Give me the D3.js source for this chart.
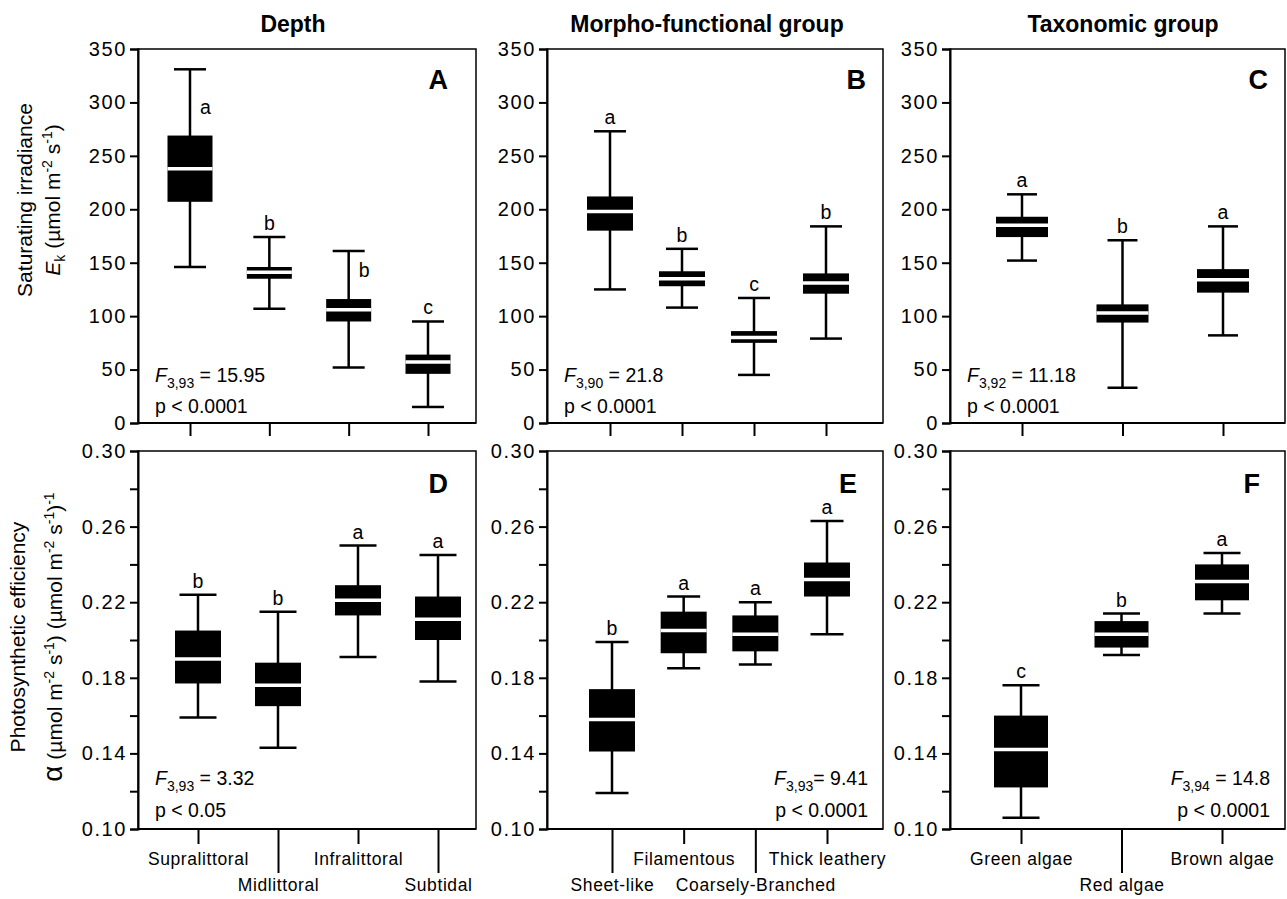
<!DOCTYPE html>
<html>
<head>
<meta charset="utf-8">
<script src="https://cdn.jsdelivr.net/npm/d3@7"></script>
<style>
body{margin:0;background:#fff;}
svg{font-family:"Liberation Sans",Arial,sans-serif;}
</style>
</head>
<body>
<div id="canvas"></div>
<script>
// ---- data (box stats: [min, q1, median, q3, max]) ----
var titles = ['Depth','Morpho-functional group','Taxonomic group'];
var depthCats = ['Supralittoral','Midlittoral','Infralittoral','Subtidal'];
var morphoCats = ['Sheet-like','Filamentous','Coarsely-Branched','Thick leathery'];
var taxoCats = ['Green algae','Red algae','Brown algae'];

var ekTicks = [0,50,100,150,200,250,300,350];
var alphaTicks = [0.10,0.12,0.14,0.16,0.18,0.20,0.22,0.24,0.26,0.28,0.30];

var ekDepth = [[146,207,238,269,331],[107,135,141,146,174],[52,95,106,116,161],[15,46,57,64,95]];
var ekMorpho = [[125,180,198,212,273],[108,128,135,142,163],[45,75,80,86,117],[79,121,131,140,184]];
var ekTaxo = [[152,174,185,193,214],[33,94,103,111,171],[82,122,134,144,184]];

var alphaDepth = [[0.159,0.177,0.190,0.205,0.224],[0.143,0.165,0.176,0.188,0.215],[0.191,0.213,0.221,0.229,0.250],[0.178,0.200,0.211,0.223,0.245]];
var alphaMorpho = [[0.119,0.141,0.158,0.174,0.199],[0.185,0.193,0.205,0.215,0.223],[0.187,0.194,0.203,0.213,0.220],[0.203,0.223,0.232,0.241,0.263]];
var alphaTaxo = [[0.106,0.122,0.142,0.160,0.176],[0.192,0.196,0.203,0.210,0.214],[0.214,0.221,0.231,0.240,0.246]];

var ekDepthLetters = ['a','b','b','c'];
var ekMorphoLetters = ['a','b','c','b'];
var ekTaxoLetters = ['a','b','a'];
var alphaDepthLetters = ['b','b','a','a'];
var alphaMorphoLetters = ['b','a','a','a'];
var alphaTaxoLetters = ['c','b','a'];

var panelLabels = ['A','B','C','D','E','F'];
var fSubs = ['3,93','3,90','3,92','3,93','3,93','3,94'];
var fVals = [' = 15.95',' = 21.8',' = 11.18',' = 3.32','= 9.41',' = 14.8'];
var pVals = ['p < 0.0001','p < 0.0001','p < 0.0001','p < 0.05','p < 0.0001','p < 0.0001'];

// ---- layout ----
var W = 1287, H = 899;
var cols = [{x0:138,x1:476,tx:293},{x0:547,x1:883,tx:707},{x0:950,x1:1285,tx:1123}];
var rows = [{y0:49,y1:423},{y0:451,y1:829}];

var panels = [
  {col:0,row:0,cats:depthCats,box:ekDepth,letters:ekDepthLetters,beside:[1,0,1,0],pad:[52,48],bw:45,cw:32,lo:28,right:false},
  {col:1,row:0,cats:morphoCats,box:ekMorpho,letters:ekMorphoLetters,beside:[0,0,0,0],pad:[63,57],bw:46,cw:32,lo:17,right:false},
  {col:2,row:0,cats:taxoCats,box:ekTaxo,letters:ekTaxoLetters,beside:[0,0,0],pad:[72,62],bw:52,cw:30,lo:17,right:false},
  {col:0,row:1,cats:depthCats,box:alphaDepth,letters:alphaDepthLetters,beside:[0,0,0,0],pad:[60,38],bw:46,cw:37,lo:28,right:false,long:[0,1,0,1]},
  {col:1,row:1,cats:morphoCats,box:alphaMorpho,letters:alphaMorphoLetters,beside:[0,0,0,0],pad:[65,56],bw:46,cw:33,lo:26,right:true,long:[1,0,1,0]},
  {col:2,row:1,cats:taxoCats,box:alphaTaxo,letters:alphaTaxoLetters,beside:[0,0,0],pad:[71,63],bw:54,cw:37,lo:25,right:true,long:[0,1,0]}
];

var svg = d3.select('#canvas')
    .append('svg')
    .attr('width', W)
    .attr('height', H);

function rich(sel, parts){
  parts.forEach(function(p){
    var t = sel.append('tspan').text(p.t);
    if(p.i) t.style('font-style','italic');
    if(p.s) t.attr('font-size', p.s);
    if(p.dy) t.attr('dy', p.dy);
  });
}

// column titles
titles.forEach(function(t,i){
  svg.append('text')
    .attr('x', cols[i].tx).attr('y', 32)
    .attr('text-anchor','middle')
    .attr('font-size',23).attr('font-weight','bold')
    .text(t);
});

panels.forEach(function(p,pi){
  var c = cols[p.col], r = rows[p.row];
  var g = svg.append('g');
  var x = d3.scalePoint().domain(p.cats).range([c.x0 + p.pad[0], c.x1 - p.pad[1]]);
  var y = p.row == 0
    ? d3.scaleLinear().domain([0,350]).range([r.y1, r.y0])
    : d3.scaleLinear().domain([0.10,0.30]).range([r.y1, r.y0]);

  // frame
  g.append('rect')
    .attr('x', c.x0).attr('y', r.y0)
    .attr('width', c.x1 - c.x0).attr('height', r.y1 - r.y0)
    .attr('fill','none').attr('stroke','#000').attr('stroke-width',1.5);

  // y axis
  var yAxis = d3.axisLeft(y).tickSizeOuter(0).tickSize(8).tickPadding(3);
  if(p.row == 0){
    yAxis.tickValues(ekTicks).tickFormat(d3.format('d'));
  } else {
    yAxis.tickValues(alphaTicks).tickFormat(function(d,i){ return i % 2 == 0 ? d3.format('.2f')(d) : ''; });
  }
  var ya = g.append('g').attr('transform','translate('+c.x0+',0)').call(yAxis);
  ya.select('.domain').attr('stroke-width',2);
  ya.selectAll('.tick line').attr('stroke-width',2);
  ya.selectAll('.tick text').attr('font-size',20).attr('fill','#000')
    .attr('font-family','"Liberation Sans",Arial,sans-serif').style('letter-spacing','1.6px');

  // x axis
  var xAxis = d3.axisBottom(x).tickSizeOuter(0);
  var xa = g.append('g').attr('transform','translate(0,'+r.y1+')');
  if(p.row == 0){
    xAxis.tickSize(13).tickFormat('');
    xa.call(xAxis);
  } else {
    xAxis.tickSize(15);
    xa.call(xAxis);
    xa.selectAll('.tick line').attr('y2', function(d,i){ return p.long[i] ? 44 : 15; });
    xa.selectAll('.tick text')
      .attr('dy', 0)
      .attr('y', function(d,i){ return p.long[i] ? 62 : 36; })
      .attr('font-size',17.5).attr('fill','#000')
      .attr('font-family','"Liberation Sans",Arial,sans-serif').style('letter-spacing','0.6px');
  }
  xa.select('.domain').remove();
  xa.selectAll('.tick line').attr('stroke-width',2);
  // bottom axis line
  g.append('line')
    .attr('x1', c.x0).attr('x2', c.x1)
    .attr('y1', r.y1).attr('y2', r.y1)
    .attr('stroke','#000').attr('stroke-width',2);

  // boxes
  var data = p.cats.map(function(k,i){ return {cat:k, s:p.box[i], letter:p.letters[i], beside:p.beside[i]}; });
  var bx = g.selectAll('.box').data(data).enter().append('g').attr('class','box');

  bx.append('line')
    .attr('x1', function(d){ return x(d.cat); }).attr('x2', function(d){ return x(d.cat); })
    .attr('y1', function(d){ return y(d.s[0]); }).attr('y2', function(d){ return y(d.s[4]); })
    .attr('stroke','#000').attr('stroke-width',2.5);
  [0,4].forEach(function(k){
    bx.append('line')
      .attr('x1', function(d){ return x(d.cat) - p.cw/2; }).attr('x2', function(d){ return x(d.cat) + p.cw/2; })
      .attr('y1', function(d){ return y(d.s[k]); }).attr('y2', function(d){ return y(d.s[k]); })
      .attr('stroke','#000').attr('stroke-width',2.5);
  });
  bx.append('rect')
    .attr('x', function(d){ return x(d.cat) - p.bw/2; })
    .attr('y', function(d){ return y(d.s[3]); })
    .attr('width', p.bw)
    .attr('height', function(d){ return y(d.s[1]) - y(d.s[3]); })
    .attr('fill','#000');
  bx.append('line')
    .attr('x1', function(d){ return x(d.cat) - p.bw/2; }).attr('x2', function(d){ return x(d.cat) + p.bw/2; })
    .attr('y1', function(d){ return y(d.s[2]); }).attr('y2', function(d){ return y(d.s[2]); })
    .attr('stroke','#fff').attr('stroke-width',3.5);
  bx.append('text')
    .attr('x', function(d){ return d.beside ? x(d.cat) + 10 : x(d.cat); })
    .attr('y', function(d){ return d.beside ? y(d.s[3]) - 22 : y(d.s[4]) - 7; })
    .attr('text-anchor', function(d){ return d.beside ? 'start' : 'middle'; })
    .attr('font-size',19.5)
    .text(function(d){ return d.letter; });

  // panel letter
  g.append('text')
    .attr('x', c.x1 - p.lo).attr('y', p.row == 0 ? 89 : 493)
    .attr('text-anchor','end')
    .attr('font-size',27).attr('font-weight','bold')
    .text(panelLabels[pi]);

  // statistics
  var sx = p.right ? c.x1 - 15 : c.x0 + 17;
  var anchor = p.right ? 'end' : 'start';
  var f = g.append('text')
    .attr('x', sx).attr('y', p.row == 0 ? r.y1 - 41 : r.y1 - 44)
    .attr('text-anchor', anchor).attr('font-size',19.5);
  rich(f, [{t:'F',i:1},{t:fSubs[pi],s:14,dy:6},{t:fVals[pi],dy:-6}]);
  g.append('text')
    .attr('x', sx).attr('y', p.row == 0 ? r.y1 - 10 : r.y1 - 12)
    .attr('text-anchor', anchor).attr('font-size',19.5)
    .text(pVals[pi]);
});

// y axis titles
var t1 = svg.append('g').attr('transform','translate(32,200) rotate(-90)');
t1.append('text').attr('text-anchor','middle').attr('font-size',21).text('Saturating irradiance');
var t1b = t1.append('text').attr('text-anchor','middle').attr('font-size',21).attr('y',28);
rich(t1b, [{t:'E',i:1},{t:'k',s:14,dy:5},{t:' (µmol m',dy:-5},{t:'-2',s:14,dy:-8},{t:' s',dy:8},{t:'-1',s:14,dy:-8},{t:')',dy:8}]);

var t2 = svg.append('g').attr('transform','translate(25,637) rotate(-90)');
t2.append('text').attr('text-anchor','middle').attr('font-size',21).text('Photosynthetic efficiency');
var t2b = t2.append('text').attr('text-anchor','middle').attr('font-size',21).attr('y',37);
rich(t2b, [{t:'α',s:28},{t:' (µmol m'},{t:'-2',s:14,dy:-8},{t:' s',dy:8},{t:'-1',s:14,dy:-8},{t:') (µmol m',dy:8},
  {t:'-2',s:14,dy:-8},{t:' s',dy:8},{t:'-1',s:14,dy:-8},{t:')',dy:8},{t:'-1',s:14,dy:-8}]);
</script>
</body>
</html>
